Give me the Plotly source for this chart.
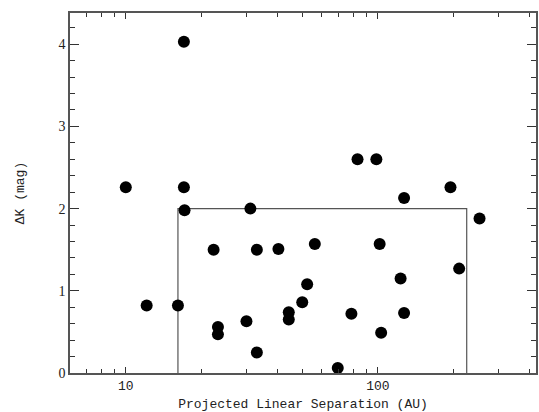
import plotly.graph_objects as go

# Projected linear separation (AU) and Delta K (mag)
sep_au = [10.0, 12.1, 16.1, 17.0, 17.0, 17.1, 22.3, 23.2, 23.2, 30.1, 31.2,
          33.1, 33.1, 40.3, 44.3, 44.3, 50.1, 52.4, 56.2, 69.3, 78.5,
          83.0, 98.6, 101.6, 103.0, 123.0, 127.0, 127.0, 194.0, 210.0, 253.0]
delta_k = [2.26, 0.82, 0.82, 4.03, 2.26, 1.98, 1.50, 0.56, 0.47, 0.63, 2.00,
           1.50, 0.25, 1.51, 0.74, 0.65, 0.86, 1.08, 1.57, 0.06, 0.72,
           2.60, 2.60, 1.57, 0.49, 1.15, 0.73, 2.13, 2.26, 1.27, 1.88]

# Completeness box
box_x = [16.1, 16.1, 225.0, 225.0]
box_y = [0.0, 2.0, 2.0, 0.0]

x_major = [10, 100]
x_minor = [6, 7, 8, 9, 20, 30, 40, 50, 60, 70, 80, 90, 200, 300, 400]
y_major = [0, 1, 2, 3, 4]

fig = go.Figure()
fig.add_trace(go.Scatter(x=box_x, y=box_y, mode="lines",
                         line=dict(color="#555555", width=1.2),
                         showlegend=False, hoverinfo="skip"))
fig.add_trace(go.Scatter(x=sep_au, y=delta_k, mode="markers",
                         marker=dict(color="black", size=12, line=dict(width=0)),
                         showlegend=False))

font_main = "Liberation Mono, Courier New, monospace"

fig.update_layout(
    width=539, height=412,
    margin=dict(l=70, r=1, t=13, b=39),
    paper_bgcolor="white", plot_bgcolor="white",
    font=dict(family=font_main, color="#222222", size=13),
    xaxis=dict(
        type="log", range=[0.7787, 2.627],
        tickmode="array", tickvals=x_major, ticktext=["10", "100"],
        ticks="inside", ticklen=6, tickwidth=1, tickcolor="#333333",
        minor=dict(tickmode="array", tickvals=x_minor, ticks="inside",
                   ticklen=4, tickcolor="#333333", showgrid=False),
        showline=True, linecolor="#555555", linewidth=1.5, mirror="ticks",
        showgrid=False, zeroline=False,
        tickfont=dict(size=13, family=font_main),
        title=dict(text="Projected Linear Separation (AU)", standoff=8,
                   font=dict(size=13, family=font_main)),
    ),
    yaxis=dict(
        range=[0, 4.38],
        tickmode="array", tickvals=y_major,
        ticks="inside", ticklen=9, tickwidth=1, tickcolor="#333333",
        minor=dict(dtick=0.2, tick0=0, ticks="inside", ticklen=5,
                   tickcolor="#333333", showgrid=False),
        showline=True, linecolor="#555555", linewidth=1.5, mirror="ticks",
        showgrid=False, zeroline=False,
        tickfont=dict(size=14, family="Liberation Serif, serif"),
        title=dict(text="ΔK (mag)", standoff=31,
                   font=dict(size=13, family=font_main)),
    ),
)

fig.write_html("out.html")
